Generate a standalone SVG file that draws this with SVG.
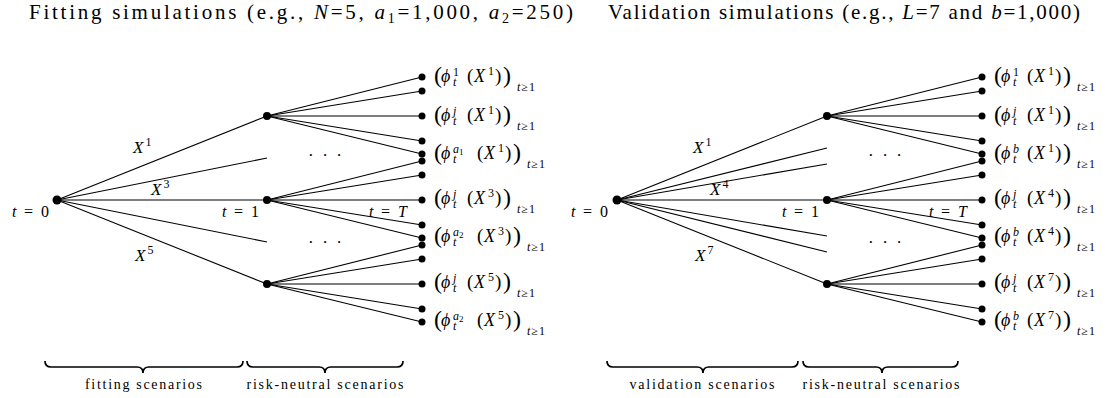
<svg xmlns="http://www.w3.org/2000/svg" width="1120" height="398" viewBox="0 0 1120 398" font-family="'Liberation Serif', serif">
<style>
text{font-family:"Liberation Serif",serif;fill:#000}
.ttl{font-size:21px}
circle{fill:#000}
.it{font-style:italic}
#connectors line{stroke:#000;stroke-width:1.1}
.bp{font-size:24px}
.mp{font-size:19px}
.lab{font-size:18px}
.sm{font-size:12px}
.sb{font-size:12px;letter-spacing:1px}
.xs{font-size:9px}
.tl{font-size:16px}
.xl{font-size:17px}
.br{fill:none;stroke:#000;stroke-width:1.7}
.bt{font-size:14px}
</style>
<rect width="1120" height="398" fill="#fff"/>

<text class="ttl" x="29" y="19" textLength="544" lengthAdjust="spacing">Fitting simulations (e.g., <tspan class="it">N</tspan>=5, <tspan class="it">a</tspan><tspan font-size="14" dy="4">1</tspan><tspan dy="-4">=1,000, </tspan><tspan class="it">a</tspan><tspan font-size="14" dy="4">2</tspan><tspan dy="-4">=250)</tspan></text>
<text class="ttl" x="608" y="19" textLength="472" lengthAdjust="spacing">Validation simulations (e.g., <tspan class="it">L</tspan>=7 and <tspan class="it">b</tspan>=1,000)</text>

<g id="connectors">
<line x1="57" y1="200" x2="267" y2="116"/>
<line x1="57" y1="200" x2="267" y2="158"/>
<line x1="57" y1="200" x2="267" y2="200"/>
<line x1="57" y1="200" x2="267" y2="242"/>
<line x1="57" y1="200" x2="267" y2="284"/>
<line x1="267" y1="116" x2="422" y2="77"/>
<line x1="267" y1="116" x2="422" y2="91"/>
<line x1="267" y1="116" x2="422" y2="116"/>
<line x1="267" y1="116" x2="422" y2="141"/>
<line x1="267" y1="116" x2="422" y2="154"/>
<line x1="267" y1="200" x2="422" y2="161"/>
<line x1="267" y1="200" x2="422" y2="175"/>
<line x1="267" y1="200" x2="422" y2="200"/>
<line x1="267" y1="200" x2="422" y2="225"/>
<line x1="267" y1="200" x2="422" y2="238"/>
<line x1="267" y1="284" x2="422" y2="245"/>
<line x1="267" y1="284" x2="422" y2="259"/>
<line x1="267" y1="284" x2="422" y2="284"/>
<line x1="267" y1="284" x2="422" y2="309"/>
<line x1="267" y1="284" x2="422" y2="322"/>

<line x1="617" y1="200" x2="827" y2="116"/>
<line x1="617" y1="200" x2="827" y2="148"/>
<line x1="617" y1="200" x2="827" y2="164"/>
<line x1="617" y1="200" x2="827" y2="200"/>
<line x1="617" y1="200" x2="827" y2="236"/>
<line x1="617" y1="200" x2="827" y2="252"/>
<line x1="617" y1="200" x2="827" y2="284"/>
<line x1="827" y1="116" x2="982" y2="77"/>
<line x1="827" y1="116" x2="982" y2="91"/>
<line x1="827" y1="116" x2="982" y2="116"/>
<line x1="827" y1="116" x2="982" y2="141"/>
<line x1="827" y1="116" x2="982" y2="154"/>
<line x1="827" y1="200" x2="982" y2="161"/>
<line x1="827" y1="200" x2="982" y2="175"/>
<line x1="827" y1="200" x2="982" y2="200"/>
<line x1="827" y1="200" x2="982" y2="225"/>
<line x1="827" y1="200" x2="982" y2="238"/>
<line x1="827" y1="284" x2="982" y2="245"/>
<line x1="827" y1="284" x2="982" y2="259"/>
<line x1="827" y1="284" x2="982" y2="284"/>
<line x1="827" y1="284" x2="982" y2="309"/>
<line x1="827" y1="284" x2="982" y2="322"/>

<text class="xl" x="133" y="153"><tspan class="it">X</tspan><tspan class="sm" dx="2" dy="-7">1</tspan></text>
<text class="xl" x="151" y="195"><tspan class="it">X</tspan><tspan class="sm" dx="2" dy="-7">3</tspan></text>
<text class="xl" x="135" y="261"><tspan class="it">X</tspan><tspan class="sm" dx="2" dy="-7">5</tspan></text>
<text class="xl" x="693" y="153"><tspan class="it">X</tspan><tspan class="sm" dx="2" dy="-7">1</tspan></text>
<text class="xl" x="710" y="195"><tspan class="it">X</tspan><tspan class="sm" dx="2" dy="-7">4</tspan></text>
<text class="xl" x="695" y="261"><tspan class="it">X</tspan><tspan class="sm" dx="2" dy="-7">7</tspan></text>

<text class="xl" x="308" y="161" textLength="34">· · ·</text>
<text class="xl" x="308" y="248" textLength="34">· · ·</text>
<text class="xl" x="868" y="161" textLength="34">· · ·</text>
<text class="xl" x="868" y="248" textLength="34">· · ·</text>
</g>

<!-- left tree nodes -->
<g id="L-root"><circle cx="57" cy="200" r="4.5"/><text class="tl" y="217"><tspan class="it" x="12">t</tspan><tspan x="24">=</tspan><tspan x="41">0</tspan></text></g>
<g id="L-X1"><circle cx="267" cy="116" r="4"/></g>
<g id="L-X3"><circle cx="267" cy="200" r="4"/><text class="tl" y="217"><tspan class="it" x="222">t</tspan><tspan x="234">=</tspan><tspan x="251">1</tspan></text><text class="tl" y="217"><tspan class="it" x="369">t</tspan><tspan x="381">=</tspan><tspan class="it" x="398">T</tspan></text></g>
<g id="L-X5"><circle cx="267" cy="284" r="4"/></g>

<g id="L-X1-1"><circle cx="422" cy="77" r="3.5"/>
<text class="lab" transform="translate(434,82)"><tspan class="bp" x="0" y="1">(</tspan><tspan class="it" x="7" y="0">ϕ</tspan><tspan class="sm" x="19" y="-6">1</tspan><tspan class="sm it" x="19" y="4">t</tspan><tspan class="mp" x="33" y="0">(</tspan><tspan class="it" x="40" y="0">X</tspan><tspan class="sm" x="54" y="-7">1</tspan><tspan class="mp" x="61" y="0">)</tspan><tspan class="bp" x="69" y="1">)</tspan><tspan class="sb it" x="83" y="9">t</tspan><tspan class="sb">≥1</tspan></text></g>
<g id="L-X1-2"><circle cx="422" cy="91" r="3.5"/></g>
<g id="L-X1-j"><circle cx="422" cy="116" r="3.5"/>
<text class="lab" transform="translate(434,121)"><tspan class="bp" x="0" y="1">(</tspan><tspan class="it" x="7" y="0">ϕ</tspan><tspan class="sm it" x="19" y="-6">j</tspan><tspan class="sm it" x="19" y="4">t</tspan><tspan class="mp" x="33" y="0">(</tspan><tspan class="it" x="40" y="0">X</tspan><tspan class="sm" x="54" y="-7">1</tspan><tspan class="mp" x="61" y="0">)</tspan><tspan class="bp" x="69" y="1">)</tspan><tspan class="sb it" x="83" y="9">t</tspan><tspan class="sb">≥1</tspan></text></g>
<g id="L-X1-4"><circle cx="422" cy="141" r="3.5"/></g>
<g id="L-X1-a1"><circle cx="422" cy="154" r="3.5"/>
<text class="lab" transform="translate(434,159)"><tspan class="bp" x="0" y="1">(</tspan><tspan class="it" x="7" y="0">ϕ</tspan><tspan class="sm it" x="19" y="-6">a</tspan><tspan class="xs" y="-4">1</tspan><tspan class="sm it" x="19" y="4">t</tspan><tspan class="mp" x="43" y="0">(</tspan><tspan class="it" x="50" y="0">X</tspan><tspan class="sm" x="64" y="-7">1</tspan><tspan class="mp" x="71" y="0">)</tspan><tspan class="bp" x="79" y="1">)</tspan><tspan class="sb it" x="93" y="9">t</tspan><tspan class="sb">≥1</tspan></text></g>

<g id="L-X3-1"><circle cx="422" cy="161" r="3.5"/></g>
<g id="L-X3-2"><circle cx="422" cy="175" r="3.5"/></g>
<g id="L-X3-j"><circle cx="422" cy="200" r="3.5"/>
<text class="lab" transform="translate(434,204)"><tspan class="bp" x="0" y="1">(</tspan><tspan class="it" x="7" y="0">ϕ</tspan><tspan class="sm it" x="19" y="-6">j</tspan><tspan class="sm it" x="19" y="4">t</tspan><tspan class="mp" x="33" y="0">(</tspan><tspan class="it" x="40" y="0">X</tspan><tspan class="sm" x="54" y="-7">3</tspan><tspan class="mp" x="61" y="0">)</tspan><tspan class="bp" x="69" y="1">)</tspan><tspan class="sb it" x="83" y="9">t</tspan><tspan class="sb">≥1</tspan></text></g>
<g id="L-X3-4"><circle cx="422" cy="225" r="3.5"/></g>
<g id="L-X3-a2"><circle cx="422" cy="238" r="3.5"/>
<text class="lab" transform="translate(434,242)"><tspan class="bp" x="0" y="1">(</tspan><tspan class="it" x="7" y="0">ϕ</tspan><tspan class="sm it" x="19" y="-6">a</tspan><tspan class="xs" y="-4">2</tspan><tspan class="sm it" x="19" y="4">t</tspan><tspan class="mp" x="43" y="0">(</tspan><tspan class="it" x="50" y="0">X</tspan><tspan class="sm" x="64" y="-7">3</tspan><tspan class="mp" x="71" y="0">)</tspan><tspan class="bp" x="79" y="1">)</tspan><tspan class="sb it" x="93" y="9">t</tspan><tspan class="sb">≥1</tspan></text></g>

<g id="L-X5-1"><circle cx="422" cy="245" r="3.5"/></g>
<g id="L-X5-2"><circle cx="422" cy="259" r="3.5"/></g>
<g id="L-X5-j"><circle cx="422" cy="284" r="3.5"/>
<text class="lab" transform="translate(434,288)"><tspan class="bp" x="0" y="1">(</tspan><tspan class="it" x="7" y="0">ϕ</tspan><tspan class="sm it" x="19" y="-6">j</tspan><tspan class="sm it" x="19" y="4">t</tspan><tspan class="mp" x="33" y="0">(</tspan><tspan class="it" x="40" y="0">X</tspan><tspan class="sm" x="54" y="-7">5</tspan><tspan class="mp" x="61" y="0">)</tspan><tspan class="bp" x="69" y="1">)</tspan><tspan class="sb it" x="83" y="9">t</tspan><tspan class="sb">≥1</tspan></text></g>
<g id="L-X5-4"><circle cx="422" cy="309" r="3.5"/></g>
<g id="L-X5-a2"><circle cx="422" cy="322" r="3.5"/>
<text class="lab" transform="translate(434,326)"><tspan class="bp" x="0" y="1">(</tspan><tspan class="it" x="7" y="0">ϕ</tspan><tspan class="sm it" x="19" y="-6">a</tspan><tspan class="xs" y="-4">2</tspan><tspan class="sm it" x="19" y="4">t</tspan><tspan class="mp" x="43" y="0">(</tspan><tspan class="it" x="50" y="0">X</tspan><tspan class="sm" x="64" y="-7">5</tspan><tspan class="mp" x="71" y="0">)</tspan><tspan class="bp" x="79" y="1">)</tspan><tspan class="sb it" x="93" y="9">t</tspan><tspan class="sb">≥1</tspan></text></g>

<!-- right tree nodes -->
<g id="R-root"><circle cx="617" cy="200" r="4.5"/><text class="tl" y="217"><tspan class="it" x="571">t</tspan><tspan x="583">=</tspan><tspan x="600">0</tspan></text></g>
<g id="R-X1"><circle cx="827" cy="116" r="4"/></g>
<g id="R-X4"><circle cx="827" cy="200" r="4"/><text class="tl" y="217"><tspan class="it" x="782">t</tspan><tspan x="794">=</tspan><tspan x="811">1</tspan></text><text class="tl" y="217"><tspan class="it" x="929">t</tspan><tspan x="941">=</tspan><tspan class="it" x="958">T</tspan></text></g>
<g id="R-X7"><circle cx="827" cy="284" r="4"/></g>

<g id="R-X1-1"><circle cx="982" cy="77" r="3.5"/>
<text class="lab" transform="translate(994,82)"><tspan class="bp" x="0" y="1">(</tspan><tspan class="it" x="7" y="0">ϕ</tspan><tspan class="sm" x="19" y="-6">1</tspan><tspan class="sm it" x="19" y="4">t</tspan><tspan class="mp" x="33" y="0">(</tspan><tspan class="it" x="40" y="0">X</tspan><tspan class="sm" x="54" y="-7">1</tspan><tspan class="mp" x="61" y="0">)</tspan><tspan class="bp" x="69" y="1">)</tspan><tspan class="sb it" x="83" y="9">t</tspan><tspan class="sb">≥1</tspan></text></g>
<g id="R-X1-2"><circle cx="982" cy="91" r="3.5"/></g>
<g id="R-X1-j"><circle cx="982" cy="116" r="3.5"/>
<text class="lab" transform="translate(994,121)"><tspan class="bp" x="0" y="1">(</tspan><tspan class="it" x="7" y="0">ϕ</tspan><tspan class="sm it" x="19" y="-6">j</tspan><tspan class="sm it" x="19" y="4">t</tspan><tspan class="mp" x="33" y="0">(</tspan><tspan class="it" x="40" y="0">X</tspan><tspan class="sm" x="54" y="-7">1</tspan><tspan class="mp" x="61" y="0">)</tspan><tspan class="bp" x="69" y="1">)</tspan><tspan class="sb it" x="83" y="9">t</tspan><tspan class="sb">≥1</tspan></text></g>
<g id="R-X1-4"><circle cx="982" cy="141" r="3.5"/></g>
<g id="R-X1-b"><circle cx="982" cy="154" r="3.5"/>
<text class="lab" transform="translate(994,159)"><tspan class="bp" x="0" y="1">(</tspan><tspan class="it" x="7" y="0">ϕ</tspan><tspan class="sm it" x="19" y="-6">b</tspan><tspan class="sm it" x="19" y="4">t</tspan><tspan class="mp" x="33" y="0">(</tspan><tspan class="it" x="40" y="0">X</tspan><tspan class="sm" x="54" y="-7">1</tspan><tspan class="mp" x="61" y="0">)</tspan><tspan class="bp" x="69" y="1">)</tspan><tspan class="sb it" x="83" y="9">t</tspan><tspan class="sb">≥1</tspan></text></g>

<g id="R-X4-1"><circle cx="982" cy="161" r="3.5"/></g>
<g id="R-X4-2"><circle cx="982" cy="175" r="3.5"/></g>
<g id="R-X4-j"><circle cx="982" cy="200" r="3.5"/>
<text class="lab" transform="translate(994,204)"><tspan class="bp" x="0" y="1">(</tspan><tspan class="it" x="7" y="0">ϕ</tspan><tspan class="sm it" x="19" y="-6">j</tspan><tspan class="sm it" x="19" y="4">t</tspan><tspan class="mp" x="33" y="0">(</tspan><tspan class="it" x="40" y="0">X</tspan><tspan class="sm" x="54" y="-7">4</tspan><tspan class="mp" x="61" y="0">)</tspan><tspan class="bp" x="69" y="1">)</tspan><tspan class="sb it" x="83" y="9">t</tspan><tspan class="sb">≥1</tspan></text></g>
<g id="R-X4-4"><circle cx="982" cy="225" r="3.5"/></g>
<g id="R-X4-b"><circle cx="982" cy="238" r="3.5"/>
<text class="lab" transform="translate(994,242)"><tspan class="bp" x="0" y="1">(</tspan><tspan class="it" x="7" y="0">ϕ</tspan><tspan class="sm it" x="19" y="-6">b</tspan><tspan class="sm it" x="19" y="4">t</tspan><tspan class="mp" x="33" y="0">(</tspan><tspan class="it" x="40" y="0">X</tspan><tspan class="sm" x="54" y="-7">4</tspan><tspan class="mp" x="61" y="0">)</tspan><tspan class="bp" x="69" y="1">)</tspan><tspan class="sb it" x="83" y="9">t</tspan><tspan class="sb">≥1</tspan></text></g>

<g id="R-X7-1"><circle cx="982" cy="245" r="3.5"/></g>
<g id="R-X7-2"><circle cx="982" cy="259" r="3.5"/></g>
<g id="R-X7-j"><circle cx="982" cy="284" r="3.5"/>
<text class="lab" transform="translate(994,288)"><tspan class="bp" x="0" y="1">(</tspan><tspan class="it" x="7" y="0">ϕ</tspan><tspan class="sm it" x="19" y="-6">j</tspan><tspan class="sm it" x="19" y="4">t</tspan><tspan class="mp" x="33" y="0">(</tspan><tspan class="it" x="40" y="0">X</tspan><tspan class="sm" x="54" y="-7">7</tspan><tspan class="mp" x="61" y="0">)</tspan><tspan class="bp" x="69" y="1">)</tspan><tspan class="sb it" x="83" y="9">t</tspan><tspan class="sb">≥1</tspan></text></g>
<g id="R-X7-4"><circle cx="982" cy="309" r="3.5"/></g>
<g id="R-X7-b"><circle cx="982" cy="322" r="3.5"/>
<text class="lab" transform="translate(994,326)"><tspan class="bp" x="0" y="1">(</tspan><tspan class="it" x="7" y="0">ϕ</tspan><tspan class="sm it" x="19" y="-6">b</tspan><tspan class="sm it" x="19" y="4">t</tspan><tspan class="mp" x="33" y="0">(</tspan><tspan class="it" x="40" y="0">X</tspan><tspan class="sm" x="54" y="-7">7</tspan><tspan class="mp" x="61" y="0">)</tspan><tspan class="bp" x="69" y="1">)</tspan><tspan class="sb it" x="83" y="9">t</tspan><tspan class="sb">≥1</tspan></text></g>

<!-- braces -->
<g id="braces">
<path class="br" d="M45 361 Q45 367 51 367 L137 367 Q143 367 143 373 Q143 367 149 367 L237 367 Q243 367 243 361"/>
<path class="br" d="M247 361 Q247 367 253 367 L319 367 Q325 367 325 373 Q325 367 331 367 L397 367 Q403 367 403 361"/>
<path class="br" d="M607 361 Q607 367 613 367 L697 367 Q703 367 703 373 Q703 367 709 367 L792 367 Q798 367 798 361"/>
<path class="br" d="M803 361 Q803 367 809 367 L876 367 Q882 367 882 373 Q882 367 888 367 L952 367 Q958 367 958 361"/>
<text class="bt" x="143.5" y="389" text-anchor="middle" textLength="117" lengthAdjust="spacing">fitting scenarios</text>
<text class="bt" x="325" y="389" text-anchor="middle" textLength="157" lengthAdjust="spacing">risk-neutral scenarios</text>
<text class="bt" x="702" y="389" text-anchor="middle" textLength="145" lengthAdjust="spacing">validation scenarios</text>
<text class="bt" x="881" y="389" text-anchor="middle" textLength="157" lengthAdjust="spacing">risk-neutral scenarios</text>
</g>
</svg>
